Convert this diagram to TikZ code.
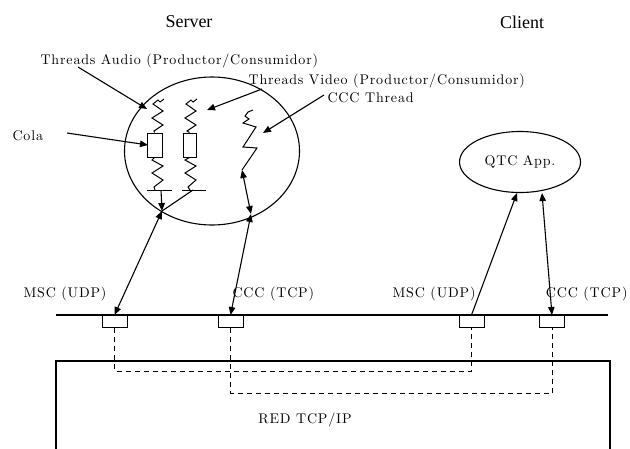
\documentclass[tikz,border=0pt]{standalone}
\usepackage{fontspec}
\newfontfamily\lblfont{lmroman10-regular}[Extension=.otf,LetterSpace=6]
\newfontfamily\ttlfont{Liberation Serif}
\usetikzlibrary{arrows.meta,shapes.geometric}
\begin{document}
\begin{tikzpicture}[x=1pt,y=-1pt,line width=1.1pt,line join=miter,
  lbl/.style={font={\lblfont\fontsize{14}{16}\selectfont},inner sep=0pt},
  ttl/.style={font={\ttlfont\fontsize{18}{20}\selectfont},inner sep=0pt},
  tip/.style={-{Triangle[length=8pt,width=6.5pt]}},
  tips/.style={{Triangle[length=8pt,width=6.5pt]}-{Triangle[length=8pt,width=6.5pt]}},
  netbox/.style={draw,minimum width=25pt,minimum height=12pt,inner sep=0pt,line width=1pt},
  queue/.style={draw,inner sep=0pt,line width=1pt},
  dashline/.style={dash pattern=on 5pt off 4pt,line width=1pt}]
\useasboundingbox (0,0) rectangle (630,448);
% titles
\node[ttl] (server) at (189,22) {Server};
\node[ttl] (client) at (522,22) {Client};
% server process and client application
\node[draw,ellipse,minimum width=175pt,minimum height=148pt,inner sep=0pt] (srv) at (212,151) {};
\node[draw,ellipse,minimum width=121pt,minimum height=61pt,inner sep=0pt,font={\lblfont\fontsize{14}{16}\selectfont}] (qtc) at (520,162) {QTC App.};
% labels
\node[lbl,anchor=base west] (laudio) at (40,64) {Threads Audio (Productor/Consumidor)};
\node[lbl,anchor=base west] (lvideo) at (248,84) {Threads Video (Productor/Consumidor)};
\node[lbl,anchor=base west] (lccc) at (327,102) {CCC Thread};
\node[lbl,anchor=base west] (lcola) at (12,140) {Cola};
% queues
\node[queue,minimum width=15pt,minimum height=24pt] (q1) at (154.5,145) {};
\node[queue,minimum width=13pt,minimum height=24pt] (q2) at (189.5,145) {};
% audio thread
\draw[line width=1pt] (164,99) -- (160,102) -- (158,100) -- (153,104) -- (163,111) -- (152,118) -- (163,125) -- (154,131) -- (q1.north);
\draw[line width=1pt] (q1.south) -- (152,160) -- (163,166) -- (152,173) -- (163,180) -- (154,187) -- (155,190);
\coordinate (bar1w) at (147,190);
\coordinate (bar1e) at (172,190);
\draw[line width=1pt] (bar1w) -- (bar1e);
% video thread
\draw[line width=1pt] (197,99) -- (193,102) -- (191,100) -- (186,104) -- (196,111) -- (185,118) -- (196,125) -- (187,131) -- (q2.north);
\draw[line width=1pt] (q2.south) -- (185,160) -- (196,166) -- (185,173) -- (196,180) -- (188,187) -- (190,190);
\coordinate (bar2w) at (182,190);
\coordinate (bar2e) at (206,190);
\draw[line width=1pt] (bar2w) -- (bar2e);
% ccc thread
\coordinate (cccend) at (242,170);
\draw[line width=1pt] (253,110) -- (248,112) -- (245,116) -- (249,119) -- (243,123) -- (256,127) -- (243,147) -- (257,148) -- (cccend);
% junctions on the ellipse
\coordinate (j1) at (162,211);
\coordinate (j2) at (251,214);
\coordinate (a1) at (161,190);
\coordinate (v1) at (193,190);
\draw[tip] (a1) -- (j1);
\draw (v1) -- (j1);
\draw[tips] (cccend) -- (j2);
% label arrows
\coordinate (ta) at (147,109);
\coordinate (tv) at (207,110);
\coordinate (tc) at (263,133);
\coordinate (tq) at (148,145);
\draw[tip] (78,67) -- (ta);
\draw[tip] (262,89) -- (tv);
\draw[tip] (324,95) -- (tc);
\draw[tip] (67,133) -- (tq);
% network line and ports
\coordinate (netw) at (56,315);
\coordinate (nete) at (608,315);
\draw (netw) -- (nete);
\node[netbox,anchor=north] (b1) at (114.5,315) {};
\node[netbox,anchor=north] (b2) at (230.5,315) {};
\node[netbox,anchor=north] (b3) at (471.5,315) {};
\node[netbox,anchor=north] (b4) at (552,315) {};
% port labels
\node[lbl,anchor=base west] (m1) at (23,297) {MSC (UDP)};
\node[lbl,anchor=base west] (c1) at (232,297) {CCC (TCP)};
\node[lbl,anchor=base east] (m2) at (476,297) {MSC (UDP)};
\node[lbl,anchor=base east] (c2) at (628,297) {CCC (TCP)};
% connectors to ports
\draw[tips] (j1) -- (b1.north);
\draw[tips] (j2) -- (b2.north);
\draw[tip] (b3.north) -- (517,193);
\draw[tips] (542,193) -- (b4.north);
% red box
\coordinate (rbl) at (56,452);
\coordinate (rtl) at (56,361);
\coordinate (rtr) at (610,361);
\coordinate (rbr) at (610,452);
\draw (rbl) -- (rtl) -- (rtr) -- (rbr);
\node[lbl,anchor=base] (red) at (305,423) {RED TCP/IP};
% dashed links
\draw[dashline] (b1.south) -- (114.5,371) -- (471.5,371) -- (b3.south);
\draw[dashline] (b2.south) -- (230.5,393) -- (552,393) -- (b4.south);
\end{tikzpicture}
\end{document}
